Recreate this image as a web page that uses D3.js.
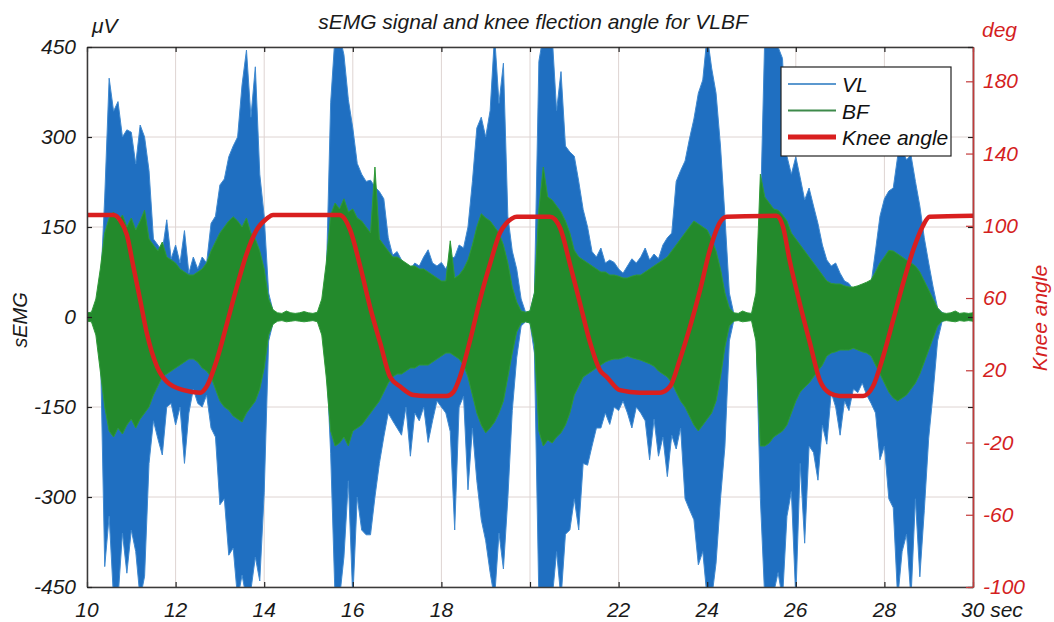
<!DOCTYPE html>
<html>
<head>
<meta charset="utf-8">
<script src="https://cdn.jsdelivr.net/npm/d3@7"></script>
<style>
html, body { margin: 0; padding: 0; background: #fff; overflow: hidden; }
svg { display: block; }
text { font-family: "Liberation Sans", Arial, sans-serif; font-style: italic; }
</style>
</head>
<body>
<svg id="chart"></svg>
<script>
const svg_width = 1054;
const svg_height = 622;

// sEMG envelope, one min/max pair every 0.1 s from 10.0 s to 30.0 s (uV)
const tStart = 10;
const tStep = 0.1;
const vlMax = [
  4, 4, 20, 40, 200, 398, 343, 359, 300, 312,
  308, 255, 320, 300, 244, 130, 120, 110, 162, 97,
  120, 90, 144, 73, 100, 80, 100, 90, 156, 168,
  220, 230, 267, 285, 300, 387, 445, 333, 417, 238,
  168, 40, 10, 5, 4, 5, 4, 5, 4, 5,
  4, 5, 6, 20, 60, 357, 470, 470, 437, 362,
  315, 256, 238, 226, 228, 217, 209, 197, 132, 103,
  109, 95, 85, 80, 90, 85, 100, 112, 90, 85,
  91, 80, 97, 100, 120, 115, 150, 226, 315, 333,
  300, 344, 470, 356, 423, 168, 110, 80, 30, 8,
  10, 40, 426, 470, 470, 470, 344, 409, 285, 275,
  268, 226, 179, 150, 109, 100, 115, 90, 95, 91,
  80, 73, 85, 97, 90, 100, 115, 95, 105, 97,
  120, 132, 140, 226, 244, 260, 297, 330, 373, 395,
  470, 415, 373, 285, 168, 40, 6, 5, 4, 5,
  5, 20, 168, 470, 470, 470, 450, 431, 268, 238,
  267, 232, 195, 215, 185, 156, 120, 95, 85, 90,
  73, 60, 56, 45, 50, 40, 50, 56, 111, 168,
  197, 210, 215, 268, 278, 262, 270, 226, 185, 132,
  90, 50, 15, 8, 4, 5, 4, 5, 4, 5,
  4
];
const vlMin = [
  -4, -4, -20, -40, -416, -332, -470, -470, -360, -427,
  -355, -391, -470, -432, -244, -173, -203, -230, -150, -144,
  -180, -150, -244, -160, -120, -144, -150, -130, -185, -200,
  -313, -303, -397, -385, -470, -430, -470, -455, -400, -440,
  -293, -40, -10, -5, -4, -5, -4, -5, -4, -5,
  -4, -5, -6, -20, -60, -227, -470, -470, -400, -273,
  -470, -300, -355, -363, -363, -300, -244, -200, -160, -173,
  -185, -197, -150, -232, -160, -173, -150, -209, -173, -140,
  -150, -160, -191, -355, -150, -132, -288, -185, -273, -338,
  -373, -426, -470, -360, -420, -302, -156, -68, -15, -8,
  -10, -60, -470, -470, -470, -470, -391, -470, -362, -355,
  -303, -355, -244, -247, -215, -185, -185, -160, -179, -150,
  -156, -140, -160, -185, -150, -160, -173, -238, -170, -232,
  -200, -266, -197, -220, -185, -303, -321, -338, -413, -391,
  -470, -470, -410, -303, -216, -40, -6, -5, -4, -5,
  -5, -20, -303, -470, -470, -460, -426, -470, -332, -291,
  -470, -244, -377, -215, -226, -272, -180, -212, -126, -150,
  -197, -140, -156, -120, -126, -110, -130, -144, -160, -238,
  -215, -303, -318, -470, -391, -362, -470, -303, -433, -323,
  -202, -126, -40, -8, -4, -5, -4, -5, -4, -5,
  -4
];
const bfMax = [
  7, 8, 30, 80, 140, 165, 175, 160, 170, 150,
  165, 145, 160, 178, 130, 120, 110, 125, 100, 95,
  90, 80, 75, 70, 70, 75, 80, 90, 110, 125,
  140, 150, 160, 167, 160, 150, 165, 140, 130, 110,
  80, 30, 12, 7, 6, 10, 7, 6, 7, 9,
  7, 6, 8, 30, 90, 170, 190, 180, 197, 175,
  180, 165, 160, 150, 140, 250, 130, 120, 110, 100,
  100, 95, 90, 85, 85, 80, 80, 75, 70, 65,
  60, 60, 127, 65, 70, 80, 95, 120, 150, 172,
  165, 160, 150, 140, 120, 90, 50, 25, 10, 8,
  10, 40, 180, 250, 200, 195, 185, 175, 160, 140,
  111, 100, 95, 90, 85, 80, 75, 75, 70, 70,
  68, 65, 65, 68, 70, 70, 75, 80, 85, 90,
  95, 100, 110, 120, 130, 140, 150, 160, 155, 150,
  145, 130, 110, 80, 40, 15, 7, 6, 10, 7,
  6, 40, 238, 200, 190, 180, 178, 170, 160, 140,
  130, 120, 110, 100, 90, 80, 70, 60, 56, 55,
  55, 52, 50, 50, 52, 55, 58, 62, 75, 90,
  100, 111, 110, 105, 100, 95, 90, 85, 75, 60,
  45, 30, 15, 7, 6, 7, 10, 6, 7, 6,
  7
];
const bfMin = [
  -7, -8, -30, -90, -150, -190, -200, -185, -195, -180,
  -170, -185, -170, -160, -150, -130, -115, -100, -95, -90,
  -85, -80, -75, -70, -70, -75, -85, -90, -100, -120,
  -140, -150, -155, -165, -170, -175, -160, -150, -140, -120,
  -85, -30, -12, -7, -6, -8, -7, -6, -7, -8,
  -7, -6, -8, -30, -100, -190, -215, -210, -200, -215,
  -190, -185, -180, -170, -160, -150, -140, -125, -110, -100,
  -95, -95, -90, -85, -85, -80, -80, -80, -75, -70,
  -65, -60, -60, -65, -70, -80, -100, -130, -160, -180,
  -193, -185, -175, -160, -140, -100, -60, -25, -10, -8,
  -10, -45, -190, -215, -205, -210, -200, -193, -180, -160,
  -130, -115, -100, -95, -90, -85, -80, -75, -72, -70,
  -70, -68, -65, -68, -70, -72, -75, -78, -82, -90,
  -95, -100, -110, -125, -140, -150, -165, -180, -190, -180,
  -170, -160, -140, -100, -50, -15, -7, -6, -8, -7,
  -6, -40, -215, -215, -210, -200, -195, -190, -180, -160,
  -140, -125, -117, -110, -100, -90, -80, -65, -60, -58,
  -55, -55, -55, -52, -55, -58, -60, -65, -80, -95,
  -110, -125, -135, -140, -135, -130, -120, -110, -95, -75,
  -55, -35, -15, -7, -6, -7, -8, -6, -7, -6,
  -7
];

// knee angle (deg), read at the turning points
const kneeTime = [10.0, 10.6, 10.75, 10.9, 11.05, 11.2, 11.35, 11.58, 11.8, 12.18, 12.56, 12.7, 12.93, 13.16, 13.38, 13.61, 13.83, 14.06, 14.2,
  15.7, 15.94, 16.17, 16.39, 16.62, 16.84, 17.07, 17.37, 17.67, 18.12, 18.27, 18.42, 18.65, 18.87, 19.1, 19.32, 19.47, 19.59, 19.7,
  20.45, 20.68, 20.9, 21.13, 21.36, 21.58, 21.73, 22.03, 22.48, 22.93, 23.16, 23.38, 23.6, 23.84, 24.06, 24.29, 24.44,
  25.56, 25.71, 25.86, 26.09, 26.32, 26.54, 26.77, 26.99, 27.52, 27.74, 27.97, 28.2, 28.42, 28.65, 28.87, 29.02, 30.0];
const kneeDeg = [106, 106, 103, 95, 77, 59, 40.6, 22, 13.7, 9, 7.6, 11, 25.7, 46, 66, 85, 97.7, 104, 106,
  106, 97.7, 77.3, 55, 35, 16.4, 11, 6.3, 5.8, 5.8, 8, 16.4, 36.8, 59, 79, 96, 101.5, 104, 105,
  105, 98.8, 79, 57, 35, 20, 16.4, 9, 7.6, 7.6, 11, 25.7, 43, 64.5, 86.6, 102, 105,
  105.5, 99.5, 81, 57, 35, 14.6, 7.3, 5.8, 5.8, 11, 27.5, 48, 68, 86.6, 100, 105, 105.5];

const xTicks = [10, 12, 14, 16, 18, 20, 22, 24, 26, 28, 30];
const xTickLabels = ['10', '12', '14', '16', '18', '', '22', '24', '26', '28', '30 sec'];
const emgTicks = [-450, -300, -150, 0, 150, 300, 450];
const angleTicks = [-100, -60, -20, 20, 60, 100, 140, 180];
const legendNames = ['VL', 'BF', 'Knee angle'];

const VL_COLOR = '#1f6fc1';
const BF_COLOR = '#238a2c';
const KNEE_COLOR = '#d91f1f';
const RIGHT_COLOR = '#d41f1f';
const TEXT_COLOR = '#1a1a1a';

const svg = d3.select('#chart')
	.attr('width', svg_width)
	.attr('height', svg_height);

const margin = {top: 47, right: 81, bottom: 35, left: 87};
const innerWidth = svg_width - margin.left - margin.right;
const innerHeight = svg_height - margin.top - margin.bottom;

const g = svg.append('g').attr('transform', `translate(${margin.left}, ${margin.top})`);

const x = d3.scaleLinear().domain([10, 30]).range([0, innerWidth]);
const yEmg = d3.scaleLinear().domain([-450, 450]).range([innerHeight, 0]);
const yAng = d3.scaleLinear().domain([-100, 199]).range([innerHeight, 0]);

const samples = vlMax.map((d, i) => ({
	t: tStart + i * tStep, vlHi: d, vlLo: vlMin[i], bfHi: bfMax[i], bfLo: bfMin[i]
}));
const knee = kneeTime.map((t, i) => ({t: t, deg: kneeDeg[i]}));

svg.append('defs').append('clipPath').attr('id', 'plotclip')
	.append('rect').attr('width', innerWidth).attr('height', innerHeight);

// grid
g.append('g').selectAll('line').data(xTicks).enter().append('line')
	.attr('x1', d => x(d)).attr('x2', d => x(d))
	.attr('y1', 0).attr('y2', innerHeight)
	.attr('stroke', '#ded4d2').attr('stroke-width', 1);
g.append('g').selectAll('line').data(emgTicks).enter().append('line')
	.attr('x1', 0).attr('x2', innerWidth)
	.attr('y1', d => yEmg(d)).attr('y2', d => yEmg(d))
	.attr('stroke', '#ded4d2').attr('stroke-width', 1);

const plot = g.append('g').attr('clip-path', 'url(#plotclip)');

const vlArea = d3.area().x(d => x(d.t)).y0(d => yEmg(d.vlLo)).y1(d => yEmg(d.vlHi));
const bfArea = d3.area().x(d => x(d.t)).y0(d => yEmg(d.bfLo)).y1(d => yEmg(d.bfHi));

plot.append('path').datum(samples).attr('d', vlArea)
	.attr('fill', VL_COLOR).attr('stroke', '#3f89d0').attr('stroke-width', 1);
plot.append('path').datum(samples).attr('d', bfArea)
	.attr('fill', BF_COLOR).attr('stroke', '#2f9a38').attr('stroke-width', 1);

const kneeLine = d3.line().x(d => x(d.t)).y(d => yAng(d.deg)).curve(d3.curveMonotoneX);
plot.append('path').datum(knee).attr('d', kneeLine)
	.attr('fill', 'none').attr('stroke', KNEE_COLOR).attr('stroke-width', 4.5);

// axis lines and inward ticks (labels added separately below)
const axes = [
	g.append('g').attr('transform', `translate(0, ${innerHeight})`)
		.call(d3.axisBottom(x).tickValues(xTicks).tickSize(-5).tickSizeOuter(0)),
	g.append('g')
		.call(d3.axisTop(x).tickValues(xTicks).tickSize(-5).tickSizeOuter(0)),
	g.append('g')
		.call(d3.axisLeft(yEmg).tickValues(emgTicks).tickSize(-5).tickSizeOuter(0)),
	g.append('g').attr('transform', `translate(${innerWidth}, 0)`)
		.call(d3.axisRight(yEmg).tickValues(emgTicks).tickSize(-5).tickSizeOuter(0))
];
const rightAxis = g.append('g').attr('transform', `translate(${innerWidth}, 0)`)
	.call(d3.axisRight(yAng).tickValues(angleTicks).tickSize(-7).tickSizeOuter(0));
axes.concat([rightAxis]).forEach(a => a.selectAll('text').remove());

g.selectAll('.domain').attr('stroke', '#3a3a3a').attr('stroke-width', 1.5);
g.selectAll('.tick line').attr('stroke', '#222').attr('stroke-width', 1.2);
rightAxis.select('.domain').attr('stroke', '#c23a3a');
rightAxis.selectAll('.tick line').attr('stroke', '#c23a3a');

// tick labels
const labels = svg.append('g').attr('font-size', '21px');
labels.selectAll('.xlab').data(xTicks.filter((d, i) => xTickLabels[i] !== '')).enter().append('text')
	.attr('class', 'xlab')
	.attr('x', d => margin.left + x(d) - (d === 30 ? 12 : 0))
	.attr('y', 617)
	.attr('text-anchor', d => d === 30 ? 'start' : 'middle')
	.attr('fill', TEXT_COLOR)
	.text(d => xTickLabels[xTicks.indexOf(d)]);
labels.selectAll('.ylab').data(emgTicks).enter().append('text')
	.attr('class', 'ylab')
	.attr('x', margin.left - 11)
	.attr('y', d => margin.top + yEmg(d) + 7)
	.attr('text-anchor', 'end')
	.attr('fill', TEXT_COLOR)
	.text(d => String(d));
labels.selectAll('.alab').data(angleTicks).enter().append('text')
	.attr('class', 'alab')
	.attr('x', margin.left + innerWidth + 10)
	.attr('y', d => margin.top + yAng(d) + 7)
	.attr('fill', RIGHT_COLOR)
	.text(d => String(d));

// titles
svg.append('text').text('sEMG signal and knee flection angle for VLBF')
	.attr('x', 533).attr('y', 29).attr('text-anchor', 'middle')
	.attr('font-size', '21px').attr('fill', TEXT_COLOR);
svg.append('text').text('μV').attr('x', 92).attr('y', 33)
	.attr('font-size', '21px').attr('fill', TEXT_COLOR);
svg.append('text').text('deg').attr('x', 982).attr('y', 37)
	.attr('font-size', '21px').attr('fill', RIGHT_COLOR);
svg.append('text').text('sEMG').attr('text-anchor', 'middle')
	.attr('transform', 'translate(27, 320) rotate(-90)')
	.attr('font-size', '20px').attr('fill', TEXT_COLOR);
svg.append('text').text('Knee angle').attr('text-anchor', 'middle')
	.attr('transform', 'translate(1047, 318) rotate(-90)')
	.attr('font-size', '21px').attr('fill', RIGHT_COLOR);

// legend
const legend = svg.append('g').attr('transform', 'translate(781, 67)');
legend.append('rect').attr('width', 170).attr('height', 89)
	.attr('fill', '#fff').attr('stroke', '#222').attr('stroke-width', 1.2);
const legendColors = ['#5b98cf', '#3d8a4a', KNEE_COLOR];
const legendWidths = [2, 2, 5];
legendNames.forEach((name, i) => {
	const ly = 17 + i * 26.5;
	legend.append('line').attr('x1', 7).attr('x2', 55).attr('y1', ly).attr('y2', ly)
		.attr('stroke', legendColors[i]).attr('stroke-width', legendWidths[i]);
	legend.append('text').text(name).attr('x', 61).attr('y', ly + 8)
		.attr('font-size', '21px').attr('fill', '#111');
});
</script>
</body>
</html>
